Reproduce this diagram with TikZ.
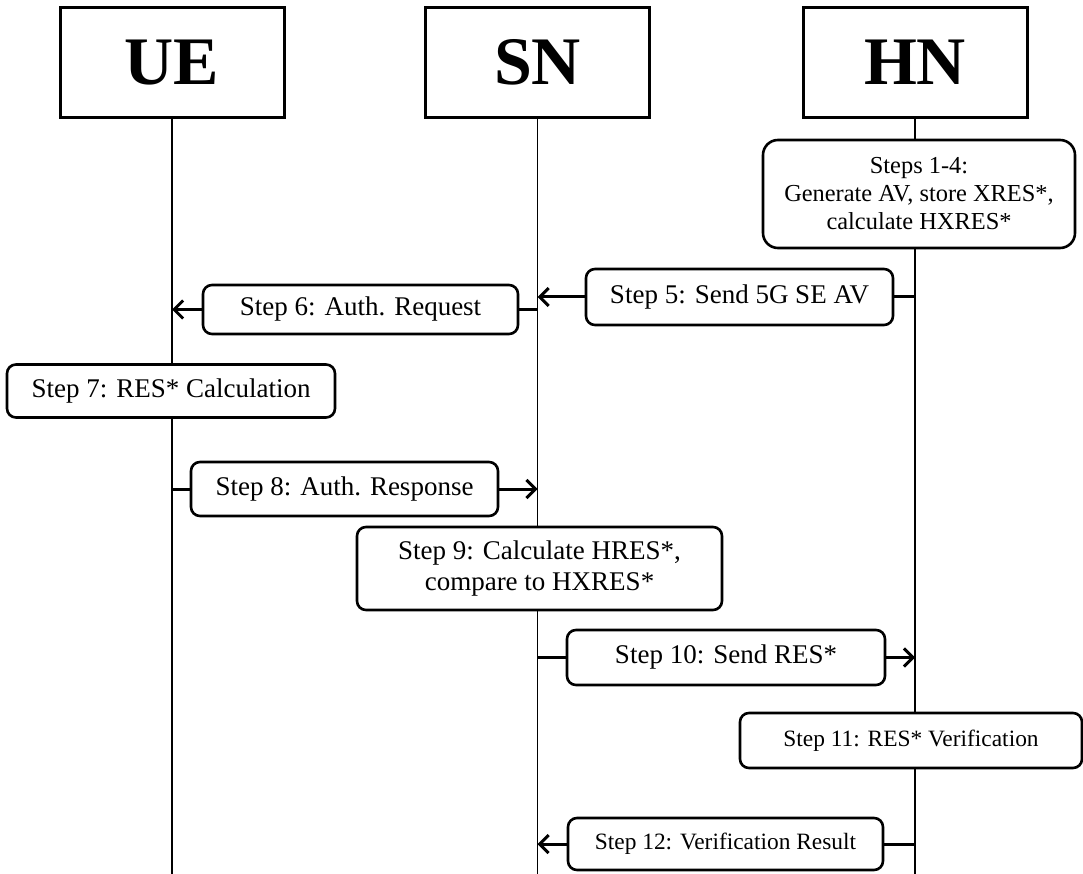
\documentclass[tikz,border=0pt]{standalone}
\usepackage{fontspec}
\setmainfont{Liberation Serif}
\usetikzlibrary{arrows.meta}
\begin{document}
\begin{tikzpicture}[x=1pt,y=-1pt,
  actor/.style={draw, line width=3pt, fill=white, minimum width=224pt,
    minimum height=110pt, inner sep=0pt, font=\fontsize{68}{68}\selectfont\bfseries},
  stepbox/.style={draw, line width=2.6pt, fill=white, rounded corners=9pt,
    inner sep=0pt, align=center, font=\fontsize{27}{31}\selectfont},
  smallstep/.style={stepbox, font=\fontsize{23.4}{27}\selectfont},
  lifeline/.style={line width=1.5pt},
  msg/.style={line width=3pt},
  msgarrow/.style={line width=3pt, -{Straight Barb[length=9pt,width=18pt,line width=3pt]}}]
\useasboundingbox (0,0) rectangle (1083,874);

% participants
\node[actor] (UE) at (172,62.5) {UE};
\node[actor] (SN) at (537.5,62.5) {SN};
\node[actor] (HN) at (915,62.5) {HN};

% lifelines
\coordinate (UEend) at (172,874);
\coordinate (SNend) at (537.5,874);
\coordinate (HNend) at (915,874);
\draw[lifeline] (UE.south) -- (UEend);
\draw[lifeline] (SN.south) -- (SNend);
\draw[lifeline] (HN.south) -- (HNend);

% local processing steps
\node[stepbox, rounded corners=15pt, minimum width=312pt, minimum height=108pt,
  font=\fontsize{24.4}{28}\selectfont] (s14) at (919,194)
  {Steps 1-4:\\Generate AV, store XRES*,\\calculate HXRES*};
\node[stepbox, minimum width=328pt, minimum height=53pt] (s7) at (171,391)
  {Step 7: RES* Calculation};
\node[stepbox, minimum width=365pt, minimum height=83pt] (s9) at (539.5,568.5)
  {Step 9: Calculate HRES*,\\compare to HXRES*};
\node[smallstep, minimum width=342pt, minimum height=55pt] (s11) at (911,740.5)
  {Step 11: RES* Verification};

% messages
\node[stepbox, minimum width=307pt, minimum height=56pt] (s5) at (739.5,297)
  {Step 5: Send 5G SE AV};
\draw[msg] (HN.south |- s5.east) -- (s5.east);
\draw[msgarrow] (s5.west) -- (SN.south |- s5.west);

\node[stepbox, minimum width=315pt, minimum height=49pt] (s6) at (360.5,309.5)
  {Step 6: Auth. Request};
\draw[msg] (SN.south |- s6.east) -- (s6.east);
\draw[msgarrow] (s6.west) -- (UE.south |- s6.west);

\node[stepbox, minimum width=307pt, minimum height=54pt] (s8) at (344.5,489)
  {Step 8: Auth. Response};
\draw[msg] (UE.south |- s8.west) -- (s8.west);
\draw[msgarrow] (s8.east) -- (SN.south |- s8.east);

\node[stepbox, minimum width=318pt, minimum height=55pt] (s10) at (726,657.5)
  {Step 10: Send RES*};
\draw[msg] (SN.south |- s10.west) -- (s10.west);
\draw[msgarrow] (s10.east) -- (HN.south |- s10.east);

\node[smallstep, minimum width=315pt, minimum height=52pt] (s12) at (725.5,844)
  {Step 12: Verification Result};
\draw[msg] (HN.south |- s12.east) -- (s12.east);
\draw[msgarrow] (s12.west) -- (SN.south |- s12.west);
\end{tikzpicture}
\end{document}
